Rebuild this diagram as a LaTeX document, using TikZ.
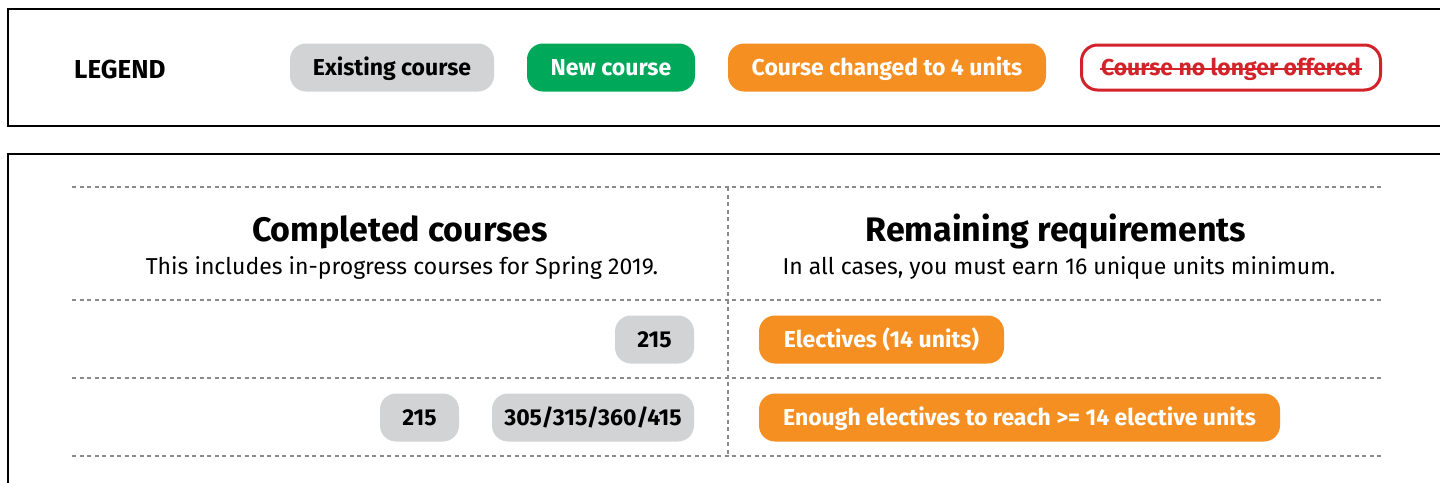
\documentclass[tikz,border=0pt]{standalone}
\usepackage{fontspec}
\setmainfont{Fira Sans}
\definecolor{pillgray}{HTML}{D1D3D4}
\definecolor{pillgreen}{HTML}{00A85A}
\definecolor{pillorange}{HTML}{F58F21}
\definecolor{pillred}{HTML}{D2232A}
\definecolor{dashgray}{HTML}{8A8A8A}
\tikzset{
  pilltext/.style={font=\fontsize{23}{26}\selectfont\bfseries, inner sep=0pt, text height=15.8pt, text depth=0pt},
  pill/.style={pilltext, rounded corners=16pt, minimum height=48pt},
  graypill/.style={pill, fill=pillgray, text=black},
  greenpill/.style={pill, fill=pillgreen, text=white},
  orangepill/.style={pill, fill=pillorange, text=white},
  redpill/.style={pill, draw=pillred, line width=3pt, fill=white, text=pillred, minimum height=45pt},
  frame/.style={draw=black, line width=1.4pt},
  sep/.style={draw=dashgray, line width=1.2pt, dash pattern=on 4pt off 3.5pt},
  heading/.style={font=\fontsize{34}{38}\selectfont\bfseries, inner sep=0pt, text height=23.4pt, text depth=0pt},
  subhead/.style={font=\fontsize{23}{26}\selectfont, inner sep=0pt, text height=15.8pt, text depth=0pt},
}
\begin{document}
\begin{tikzpicture}[x=1pt,y=-1pt]
\useasboundingbox (0,0) rectangle (1440,482);
% frames
\draw[frame] (8,9) rectangle (1460,126);
\draw[frame] (8,154) rectangle (1460,500);
% legend
\node[font=\fontsize{26}{28}\selectfont\bfseries, inner sep=0pt, text height=17.9pt, text depth=0pt, anchor=west] (leg) at (74,69.5) {LEGEND};
\node[graypill, minimum width=204pt] (ex) at (392,67.5) {Existing course};
\node[greenpill, minimum width=168pt] (nw) at (611,67.5) {New course};
\node[orangepill, minimum width=318pt] (ch) at (887,67.5) {Course changed to 4 units};
\node[redpill, minimum width=299pt] (no) at (1231,67.5) {};
\node[pilltext, text=pillred] (notxt) at (1231,67.5) {Course no longer offered};
\draw[pillred, line width=1.8pt] ([xshift=-1pt,yshift=-1.5pt]notxt.west) -- ([xshift=1pt,yshift=-1.5pt]notxt.east);
% table lines
\coordinate (h1l) at (72,187); \coordinate (h1r) at (1384,187);
\coordinate (h2l) at (72,300); \coordinate (h2r) at (1384,300);
\coordinate (h3l) at (72,378); \coordinate (h3r) at (1384,378);
\coordinate (h4l) at (72,456); \coordinate (h4r) at (1384,456);
\coordinate (vt) at (728,187); \coordinate (vb) at (728,456);
\draw[sep] (h1l) -- (h1r);
\draw[sep] (h2l) -- (h2r);
\draw[sep] (h3l) -- (h3r);
\draw[sep] (h4l) -- (h4r);
\draw[sep] (vt) -- (vb);
% headings
\node[heading] (ch1) at (400,229.5) {Completed courses};
\node[subhead] (sh1) at (402,266.5) {This includes in-progress courses for Spring 2019.};
\node[heading] (ch2) at (1056,229.5) {Remaining requirements};
\node[subhead] (sh2) at (1059,266.5) {In all cases, you must earn 16 unique units minimum.};
% row 1
\node[graypill, minimum width=79pt] (r1a) at (654.5,339.5) {215};
\node[orangepill, minimum width=245pt] (r1b) at (881.5,339.5) {Electives (14 units)};
% row 2
\node[graypill, minimum width=79pt] (r2a) at (419.5,417.5) {215};
\node[graypill, minimum width=202pt] (r2b) at (593,417.5) {305/315/360/415};
\node[orangepill, minimum width=521pt] (r2c) at (1019.5,417.5) {Enough electives to reach >= 14 elective units};
\end{tikzpicture}
\end{document}
